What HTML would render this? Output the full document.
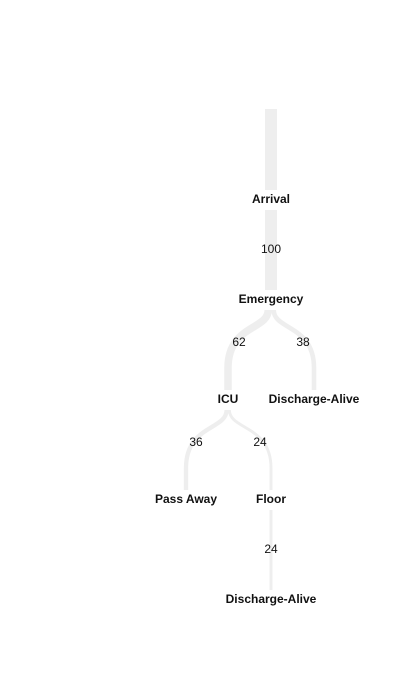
<!DOCTYPE html>
<html><head><style>
body{margin:0;background:#fff;width:411px;height:687px;overflow:hidden}
text{font-family:"Liberation Sans",Arial,sans-serif;font-size:12px;fill:#111}
.b{font-weight:bold}
</style></head><body>
<svg width="411" height="687" viewBox="0 0 411 687">
<g fill="none" stroke="#eeeeee">
<line x1="271" y1="109" x2="271" y2="190" stroke-width="12"/>
<line x1="271" y1="210" x2="271" y2="290" stroke-width="12"/>
<path d="M268.2 310 C268.2 330 228 325 228 368 L228 390" stroke-width="7.5"/>
<path d="M273.7 310 C273.7 330 314 325 314 368 L314 390" stroke-width="4.6"/>
<path d="M226.6 410 C226.6 430 186 425 186 468 L186 490" stroke-width="4.3"/>
<path d="M229.4 410 C229.4 430 271 425 271 468 L271 490" stroke-width="2.9"/>
<line x1="271" y1="510" x2="271" y2="590" stroke-width="2.9"/>
</g>
<g text-anchor="middle">
<text class="b" x="271" y="203">Arrival</text>
<text x="271" y="253">100</text>
<text class="b" x="271" y="303">Emergency</text>
<text x="239" y="346">62</text>
<text x="303" y="346">38</text>
<text class="b" x="228" y="403">ICU</text>
<text class="b" x="314" y="403">Discharge-Alive</text>
<text x="196" y="446">36</text>
<text x="260" y="446">24</text>
<text class="b" x="186" y="503">Pass Away</text>
<text class="b" x="271" y="503">Floor</text>
<text x="271" y="553">24</text>
<text class="b" x="271" y="603">Discharge-Alive</text>
</g>
</svg>
</body></html>
